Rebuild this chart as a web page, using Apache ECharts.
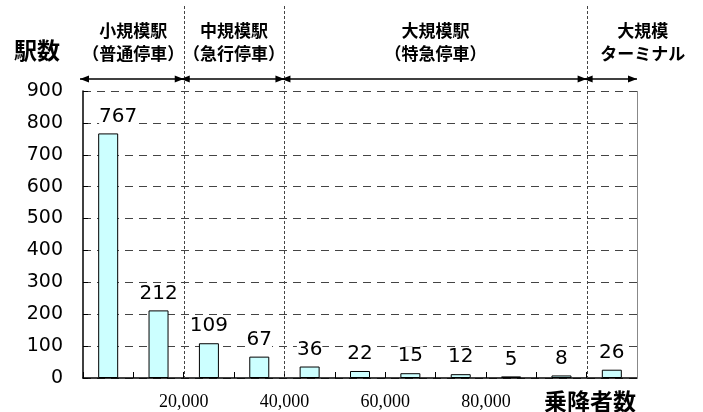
<!DOCTYPE html>
<html>
<head>
<meta charset="utf-8">
<script src="https://cdn.jsdelivr.net/npm/echarts@6/dist/echarts.min.js"></script>
<style>
  html, body { margin: 0; padding: 0; background: #fff; }
  #chart { width: 703px; height: 412px; }
</style>
</head>
<body>
<div id="chart"></div>
<script>
// 乗降者数 1万人ごとの階級
const categories = ['〜1万', '1〜2万', '2〜3万', '3〜4万', '4〜5万', '5〜6万', '6〜7万', '7〜8万', '8〜9万', '9〜10万', '10万〜'];
const stationCounts = [767, 212, 109, 67, 36, 22, 15, 12, 5, 8, 26];
const classWidth = 10000;
const passengerTicks = [20000, 40000, 60000, 80000];
const passengerMax = 110000;
const dividerValues = [20000, 40000, 100000];
const groupRanges = [[0, 20000], [20000, 40000], [40000, 100000], [100000, 110000]];
const groupTitles = ['小規模駅', '中規模駅', '大規模駅', '大規模'];
const groupSubtitles = ['（普通停車）', '（急行停車）', '（特急停車）', 'ターミナル'];

const chart = echarts.init(document.getElementById('chart'));
const jpFont = '"Noto Sans CJK JP", sans-serif';
const numFont = '"DejaVu Sans", sans-serif';

chart.setOption({
  animation: false,
  grid: { left: 83, right: 66, top: 91, bottom: 34, containLabel: false },
  xAxis: {
    type: 'category',
    data: categories,
    boundaryGap: true,
    axisLine: { lineStyle: { color: '#000', width: 1.5 } },
    axisTick: { show: true, inside: true, length: 6, interval: 0, lineStyle: { color: '#000' } },
    axisLabel: { show: false }
  },
  yAxis: {
    type: 'value',
    min: 0,
    max: 900,
    interval: 100,
    axisLine: { show: true, lineStyle: { color: '#000', width: 1.5 } },
    axisTick: { show: true, inside: true, length: 5, lineStyle: { color: '#000' } },
    axisLabel: { margin: 20, color: '#000', fontFamily: numFont, fontSize: 19 },
    splitLine: { show: true, lineStyle: { color: '#444', type: [8, 6], width: 1 } }
  },
  series: [
    {
      type: 'bar',
      barWidth: 20,
      data: stationCounts.map((v, i) => i === 0
        ? { value: v, label: { offset: [10, 0] } }
        : v),
      itemStyle: { color: '#ccffff', borderColor: '#000', borderWidth: 1 },
      label: {
        show: true,
        position: 'top',
        distance: 7,
        color: '#000',
        fontFamily: numFont,
        fontSize: 20,
        backgroundColor: '#fff'
      }
    }
  ]
});

// 乗降者数 → 画素（カテゴリ軸の境界から換算）
const cx = i => chart.convertToPixel({ xAxisIndex: 0 }, i);
const bandW = cx(1) - cx(0);
const px = v => cx(0) - bandW / 2 + (v / classWidth) * bandW;
const py = v => chart.convertToPixel({ yAxisIndex: 0 }, v);
const yBottom = py(0);
const yTop = py(900);
const arrowY = 79;
const graphics = [];

// 右枠
graphics.push({
  type: 'line',
  shape: { x1: Math.round(px(passengerMax)) + 0.5, y1: yTop, x2: Math.round(px(passengerMax)) + 0.5, y2: yBottom },
  style: { stroke: '#888', lineWidth: 1 },
  z: 3
});

// 横軸の目盛ラベル
passengerTicks.forEach(v => {
  graphics.push({
    type: 'text',
    style: { text: v.toLocaleString('en-US'), x: px(v), y: 402, align: 'center', verticalAlign: 'middle',
      font: '18px "Liberation Serif", serif', fill: '#000' }
  });
});

dividerValues.forEach(v => {
  const x = Math.round(px(v)) + 0.5;
  graphics.push({
    type: 'line',
    shape: { x1: x, y1: 6, x2: x, y2: yBottom },
    style: { stroke: '#444', lineWidth: 1, lineDash: [3, 2] },
    z: 3
  });
});

const head = (tipX, dir) => ({
  type: 'polygon',
  shape: { points: [[tipX, arrowY], [tipX - dir * 9, arrowY - 3.5], [tipX - dir * 9, arrowY + 3.5]] },
  style: { fill: '#000' },
  z: 10
});

const labelShift = [0, 0, 0, 31];
groupRanges.forEach(([a, b], i) => {
  const x1 = px(a) - 3;
  const x2 = px(b);
  graphics.push({
    type: 'line',
    shape: { x1: x1, y1: arrowY, x2: x2, y2: arrowY },
    style: { stroke: '#000', lineWidth: 1.5 },
    z: 10
  });
  graphics.push(head(x1, -1), head(x2, 1));
  const mid = (px(a) + px(b)) / 2 + labelShift[i];
  graphics.push({
    type: 'text',
    style: { text: groupTitles[i], x: mid, y: 31, align: 'center', verticalAlign: 'middle',
      font: 'bold 17px ' + jpFont, fill: '#000' },
    z: 10
  });
  graphics.push({
    type: 'text',
    style: { text: groupSubtitles[i], x: mid, y: 54, align: 'center', verticalAlign: 'middle',
      font: 'bold 17px ' + jpFont, fill: '#000' },
    z: 10
  });
});

graphics.push({
  type: 'text',
  style: { text: '駅数', x: 37, y: 50, align: 'center', verticalAlign: 'middle',
    font: 'bold 23px ' + jpFont, fill: '#000' }
});
graphics.push({
  type: 'text',
  style: { text: '乗降者数', x: 590, y: 401, align: 'center', verticalAlign: 'middle',
    font: 'bold 23px ' + jpFont, fill: '#000' }
});

chart.setOption({ graphic: graphics });
</script>
</body>
</html>
